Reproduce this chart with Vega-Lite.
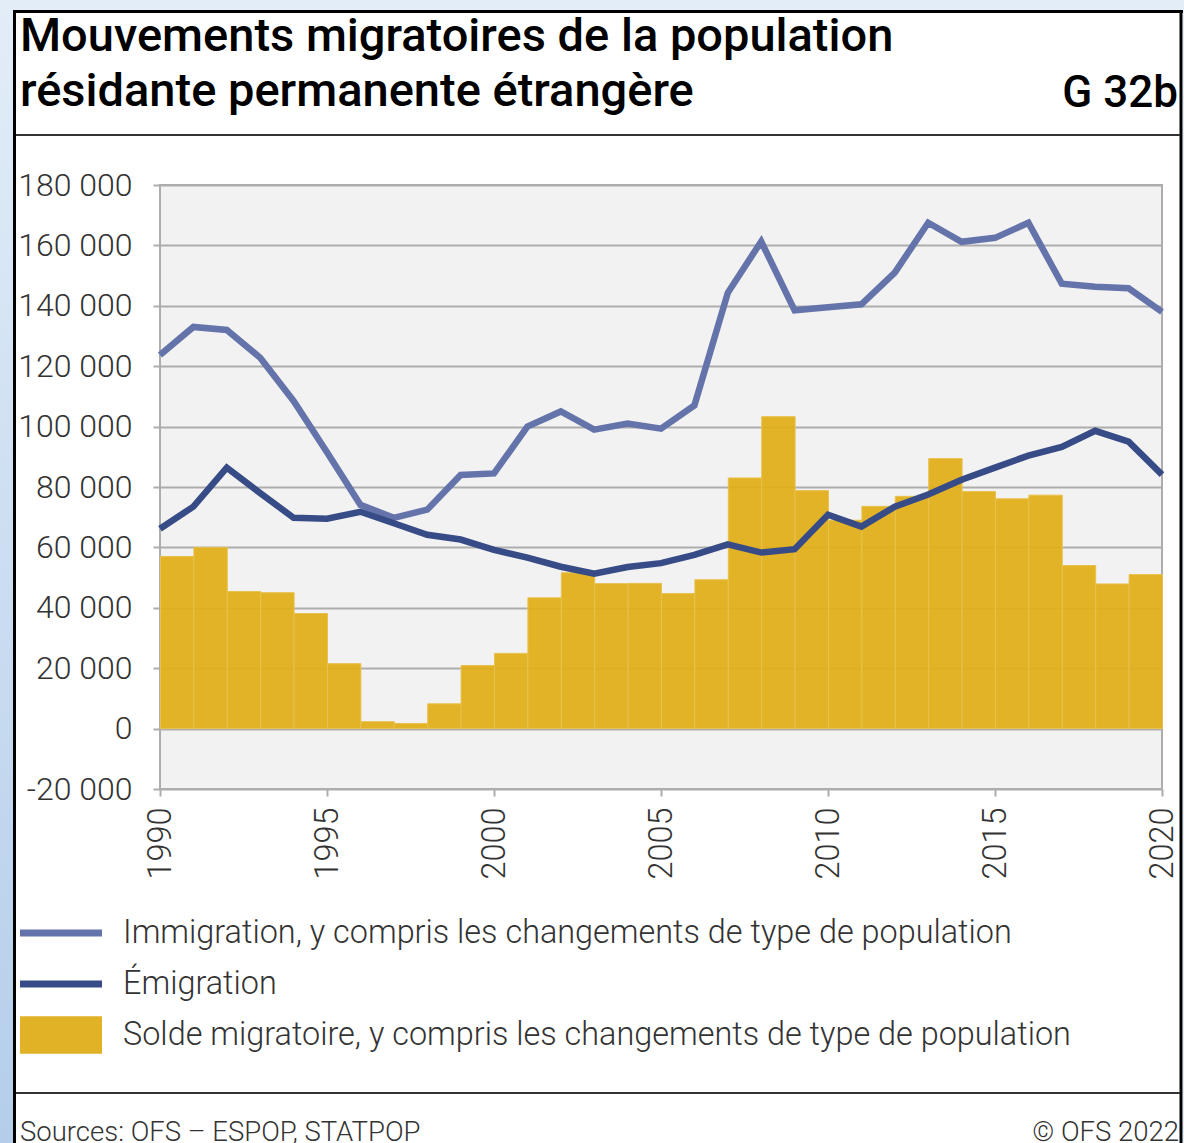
{
  "$schema": "https://vega.github.io/schema/vega-lite/v6.json",
  "width": 1002,
  "height": 604,
  "autosize": {"type": "none"},
  "padding": {"left": 160, "top": 185, "right": 22, "bottom": 354},
  "background": "white",
  "config": {
    "view": {"fill": "#f2f2f2", "stroke": "#adadad", "strokeWidth": 2},
    "font": "Roboto"
  },
  "title": {
    "text": ["Mouvements migratoires de la population", "résidante permanente étrangère"],
    "anchor": "start",
    "frame": "group",
    "dx": -140,
    "offset": -116,
    "font": "Roboto",
    "fontSize": 47,
    "fontWeight": 500,
    "color": "#000000",
    "lineHeight": 55
  },
  "datasets": {
    "solde": [
      {"year": 1990, "solde": 57000}, {"year": 1991, "solde": 60000}, {"year": 1992, "solde": 45400},
      {"year": 1993, "solde": 45000}, {"year": 1994, "solde": 38100}, {"year": 1995, "solde": 21500},
      {"year": 1996, "solde": 2300}, {"year": 1997, "solde": 1700}, {"year": 1998, "solde": 8200},
      {"year": 1999, "solde": 20900}, {"year": 2000, "solde": 24900}, {"year": 2001, "solde": 43300},
      {"year": 2002, "solde": 51600}, {"year": 2003, "solde": 48000}, {"year": 2004, "solde": 48100},
      {"year": 2005, "solde": 44700}, {"year": 2006, "solde": 49300}, {"year": 2007, "solde": 83000},
      {"year": 2008, "solde": 103300}, {"year": 2009, "solde": 78800}, {"year": 2010, "solde": 69000},
      {"year": 2011, "solde": 73600}, {"year": 2012, "solde": 76900}, {"year": 2013, "solde": 89400},
      {"year": 2014, "solde": 78500}, {"year": 2015, "solde": 76100}, {"year": 2016, "solde": 77300},
      {"year": 2017, "solde": 54000}, {"year": 2018, "solde": 47900}, {"year": 2019, "solde": 51000}
    ],
    "flows": [
      {"year": 1990, "series": "Immigration, y compris les changements de type de population", "value": 123700},
      {"year": 1991, "series": "Immigration, y compris les changements de type de population", "value": 133000},
      {"year": 1992, "series": "Immigration, y compris les changements de type de population", "value": 132000},
      {"year": 1993, "series": "Immigration, y compris les changements de type de population", "value": 122800},
      {"year": 1994, "series": "Immigration, y compris les changements de type de population", "value": 108500},
      {"year": 1995, "series": "Immigration, y compris les changements de type de population", "value": 91500},
      {"year": 1996, "series": "Immigration, y compris les changements de type de population", "value": 74100},
      {"year": 1997, "series": "Immigration, y compris les changements de type de population", "value": 69800},
      {"year": 1998, "series": "Immigration, y compris les changements de type de population", "value": 72500},
      {"year": 1999, "series": "Immigration, y compris les changements de type de population", "value": 84000},
      {"year": 2000, "series": "Immigration, y compris les changements de type de population", "value": 84500},
      {"year": 2001, "series": "Immigration, y compris les changements de type de population", "value": 100000},
      {"year": 2002, "series": "Immigration, y compris les changements de type de population", "value": 105000},
      {"year": 2003, "series": "Immigration, y compris les changements de type de population", "value": 99000},
      {"year": 2004, "series": "Immigration, y compris les changements de type de population", "value": 101000},
      {"year": 2005, "series": "Immigration, y compris les changements de type de population", "value": 99300},
      {"year": 2006, "series": "Immigration, y compris les changements de type de population", "value": 107000},
      {"year": 2007, "series": "Immigration, y compris les changements de type de population", "value": 144300},
      {"year": 2008, "series": "Immigration, y compris les changements de type de population", "value": 161300},
      {"year": 2009, "series": "Immigration, y compris les changements de type de population", "value": 138500},
      {"year": 2010, "series": "Immigration, y compris les changements de type de population", "value": 139500},
      {"year": 2011, "series": "Immigration, y compris les changements de type de population", "value": 140500},
      {"year": 2012, "series": "Immigration, y compris les changements de type de population", "value": 151000},
      {"year": 2013, "series": "Immigration, y compris les changements de type de population", "value": 167500},
      {"year": 2014, "series": "Immigration, y compris les changements de type de population", "value": 161200},
      {"year": 2015, "series": "Immigration, y compris les changements de type de population", "value": 162500},
      {"year": 2016, "series": "Immigration, y compris les changements de type de population", "value": 167500},
      {"year": 2017, "series": "Immigration, y compris les changements de type de population", "value": 147300},
      {"year": 2018, "series": "Immigration, y compris les changements de type de population", "value": 146300},
      {"year": 2019, "series": "Immigration, y compris les changements de type de population", "value": 145800},
      {"year": 2020, "series": "Immigration, y compris les changements de type de population", "value": 138000},
      {"year": 1990, "series": "Émigration", "value": 66200},
      {"year": 1991, "series": "Émigration", "value": 73500},
      {"year": 1992, "series": "Émigration", "value": 86400},
      {"year": 1993, "series": "Émigration", "value": 78000},
      {"year": 1994, "series": "Émigration", "value": 69800},
      {"year": 1995, "series": "Émigration", "value": 69500},
      {"year": 1996, "series": "Émigration", "value": 71800},
      {"year": 1997, "series": "Émigration", "value": 68000},
      {"year": 1998, "series": "Émigration", "value": 64200},
      {"year": 1999, "series": "Émigration", "value": 62600},
      {"year": 2000, "series": "Émigration", "value": 59200},
      {"year": 2001, "series": "Émigration", "value": 56600},
      {"year": 2002, "series": "Émigration", "value": 53600},
      {"year": 2003, "series": "Émigration", "value": 51300},
      {"year": 2004, "series": "Émigration", "value": 53500},
      {"year": 2005, "series": "Émigration", "value": 54800},
      {"year": 2006, "series": "Émigration", "value": 57500},
      {"year": 2007, "series": "Émigration", "value": 61000},
      {"year": 2008, "series": "Émigration", "value": 58300},
      {"year": 2009, "series": "Émigration", "value": 59400},
      {"year": 2010, "series": "Émigration", "value": 70800},
      {"year": 2011, "series": "Émigration", "value": 66900},
      {"year": 2012, "series": "Émigration", "value": 73500},
      {"year": 2013, "series": "Émigration", "value": 77500},
      {"year": 2014, "series": "Émigration", "value": 82400},
      {"year": 2015, "series": "Émigration", "value": 86400},
      {"year": 2016, "series": "Émigration", "value": 90400},
      {"year": 2017, "series": "Émigration", "value": 93300},
      {"year": 2018, "series": "Émigration", "value": 98600},
      {"year": 2019, "series": "Émigration", "value": 95000},
      {"year": 2020, "series": "Émigration", "value": 84100}
    ]
  },
  "layer": [
    {
      "data": {"name": "solde"},
      "mark": {"type": "bar", "fill": "#E0AE19", "fillOpacity": 0.94, "stroke": "#e8c24e", "strokeWidth": 1, "binSpacing": 0},
      "encoding": {
        "x": {
          "field": "year", "type": "quantitative",
          "bin": {"step": 1, "extent": [1990, 2020]},
          "scale": {"domain": [1990, 2020], "nice": false, "zero": false},
          "axis": {
            "values": [1990, 1995, 2000, 2005, 2010, 2015, 2020], "format": "d", "title": null,
            "labelAngle": -90, "grid": false, "domain": false, "ticks": true, "tickSize": 7, "tickWidth": 2,
            "tickColor": "#adadad", "labelPadding": 11, "labelFont": "Roboto", "labelFontSize": 32.5,
            "labelFontWeight": 300, "labelColor": "#333333", "labelFlush": false, "labelOverlap": false
          }
        },
        "y": {
          "field": "solde", "type": "quantitative",
          "scale": {"domain": [-20000, 180000], "nice": false, "zero": false},
          "axis": {
            "values": [-20000, 0, 20000, 40000, 60000, 80000, 100000, 120000, 140000, 160000, 180000],
            "title": null, "grid": true, "gridColor": "#adadad", "gridWidth": 2, "domain": false,
            "ticks": true, "tickSize": 7, "tickWidth": 2, "tickColor": "#adadad", "labelPadding": 21,
            "labelFont": "Roboto", "labelFontSize": 32, "labelFontWeight": 300, "labelColor": "#333333",
            "labelFlush": false, "labelOverlap": false,
            "labelExpr": "(datum.value < 0 ? '-' : '') + replace(format(abs(datum.value), ','), ',', ' ')"
          }
        }
      }
    },
    {
      "data": {"name": "flows"},
      "mark": {"type": "line", "strokeWidth": 6.5},
      "encoding": {
        "x": {
          "field": "year", "type": "quantitative",
          "scale": {"domain": [1990, 2020], "nice": false, "zero": false},
          "axis": {
            "values": [1990, 1995, 2000, 2005, 2010, 2015, 2020], "format": "d", "title": null,
            "labelAngle": -90, "grid": false, "domain": false, "ticks": true, "tickSize": 7, "tickWidth": 2,
            "tickColor": "#adadad", "labelPadding": 11, "labelFont": "Roboto", "labelFontSize": 32.5,
            "labelFontWeight": 300, "labelColor": "#333333", "labelFlush": false, "labelOverlap": false
          }
        },
        "y": {
          "field": "value", "type": "quantitative",
          "scale": {"domain": [-20000, 180000], "nice": false, "zero": false},
          "axis": {
            "values": [-20000, 0, 20000, 40000, 60000, 80000, 100000, 120000, 140000, 160000, 180000],
            "title": null, "grid": true, "gridColor": "#adadad", "gridWidth": 2, "domain": false,
            "ticks": true, "tickSize": 7, "tickWidth": 2, "tickColor": "#adadad", "labelPadding": 21,
            "labelFont": "Roboto", "labelFontSize": 32, "labelFontWeight": 300, "labelColor": "#333333",
            "labelFlush": false, "labelOverlap": false,
            "labelExpr": "(datum.value < 0 ? '-' : '') + replace(format(abs(datum.value), ','), ',', ' ')"
          }
        },
        "color": {
          "field": "series", "type": "nominal",
          "scale": {
            "domain": ["Immigration, y compris les changements de type de population", "Émigration", "Solde migratoire, y compris les changements de type de population"],
            "range": ["#6474AB", "#374B87", "#E1B226"]
          },
          "legend": {
            "orient": "none", "legendX": -143.5, "legendY": 728, "direction": "vertical", "title": null,
            "symbolType": "stroke", "symbolSize": 6724, "symbolStrokeWidth": 7, "clipHeight": 40,
            "rowPadding": 11, "labelOffset": 17.5, "labelFont": "Roboto", "labelFontSize": 32.4,
            "labelFontWeight": 300, "labelColor": "#333333", "labelLimit": 1100, "padding": 0,
            "encode": {
              "symbols": {
                "update": {
                  "shape": {"signal": "indexof(datum.value, 'Solde') === 0 ? 'M-0.915,-0.37H0.915V0.37H-0.915Z' : 'M-1,0H1'"},
                  "fill": {"signal": "indexof(datum.value, 'Solde') === 0 ? '#E1B226' : 'transparent'"},
                  "stroke": {"signal": "indexof(datum.value, 'Solde') === 0 ? '#E1B226' : (indexof(datum.value, 'Immigration') === 0 ? '#6474AB' : '#374B87')"}
                }
              }
            }
          }
        }
      }
    },
    {
      "data": {"values": [{}]},
      "mark": {"type": "rect", "fill": "#e3edf8"},
      "encoding": {
        "x": {"datum": 1985.2096, "type": "quantitative"},
        "x2": {"datum": 2020.9},
        "y": {"datum": 241258, "type": "quantitative"},
        "y2": {"datum": 237947}
      }
    },
    {
      "data": {"values": [{}]},
      "mark": {"type": "rect", "fill": {"gradient": "linear", "x1": 0, "y1": 0, "x2": 0, "y2": 1, "stops": [{"offset": 0, "color": "#e3edf8"}, {"offset": 1, "color": "#b3cdea"}]}},
      "encoding": {
        "x": {"datum": 1985.2096, "type": "quantitative"},
        "x2": {"datum": 1985.5988},
        "y": {"datum": 241258, "type": "quantitative"},
        "y2": {"datum": -145000}
      }
    },
    {
      "data": {"values": [{}]},
      "mark": {"type": "rect", "fill": "#e3edf8"},
      "encoding": {
        "x": {"datum": 2020.6287, "type": "quantitative"},
        "x2": {"datum": 2020.9},
        "y": {"datum": 241258, "type": "quantitative"},
        "y2": {"datum": -145000}
      }
    },
    {
      "data": {"values": [{}]},
      "mark": {"type": "rule", "color": "#000000", "strokeWidth": 3},
      "encoding": {
        "x": {"datum": 1985.5988, "type": "quantitative"},
        "x2": {"datum": 2020.6287},
        "y": {"datum": 237450, "type": "quantitative"}
      }
    },
    {
      "data": {"values": [{}]},
      "mark": {"type": "rule", "color": "#000000", "strokeWidth": 3},
      "encoding": {
        "x": {"datum": 1985.6437, "type": "quantitative"},
        "y": {"datum": 237947, "type": "quantitative"},
        "y2": {"datum": -145000}
      }
    },
    {
      "data": {"values": [{}]},
      "mark": {"type": "rule", "color": "#000000", "strokeWidth": 3},
      "encoding": {
        "x": {"datum": 2020.5689, "type": "quantitative"},
        "y": {"datum": 237947, "type": "quantitative"},
        "y2": {"datum": -145000}
      }
    },
    {
      "data": {"values": [{}]},
      "mark": {"type": "rule", "color": "#333333", "strokeWidth": 2},
      "encoding": {
        "x": {"datum": 1985.6886, "type": "quantitative"},
        "x2": {"datum": 2020.5389},
        "y": {"datum": 196556, "type": "quantitative"}
      }
    },
    {
      "data": {"values": [{}]},
      "mark": {"type": "rule", "color": "#333333", "strokeWidth": 2},
      "encoding": {
        "x": {"datum": 1985.6886, "type": "quantitative"},
        "x2": {"datum": 2020.5389},
        "y": {"datum": -120662, "type": "quantitative"}
      }
    },
    {
      "data": {"values": [{"label": "G 32b"}]},
      "mark": {"type": "text", "align": "right", "baseline": "alphabetic", "font": "Roboto", "fontSize": 44, "fontWeight": 500, "color": "#000000"},
      "encoding": {
        "text": {"field": "label"},
        "x": {"datum": 2020.479, "type": "quantitative"},
        "y": {"datum": 205828, "type": "quantitative"}
      }
    },
    {
      "data": {"values": [{"label": "Sources: OFS – ESPOP, STATPOP"}]},
      "mark": {"type": "text", "align": "left", "baseline": "alphabetic", "font": "Roboto", "fontSize": 27.5, "fontWeight": 300, "color": "#333333"},
      "encoding": {
        "text": {"field": "label"},
        "x": {"datum": 1985.8084, "type": "quantitative"},
        "y": {"datum": -136600, "type": "quantitative"}
      }
    },
    {
      "data": {"values": [{"label": "© OFS 2022"}]},
      "mark": {"type": "text", "align": "right", "baseline": "alphabetic", "font": "Roboto", "fontSize": 27.5, "fontWeight": 300, "color": "#333333"},
      "encoding": {
        "text": {"field": "label"},
        "x": {"datum": 2020.509, "type": "quantitative"},
        "y": {"datum": -136600, "type": "quantitative"}
      }
    }
  ]
}
